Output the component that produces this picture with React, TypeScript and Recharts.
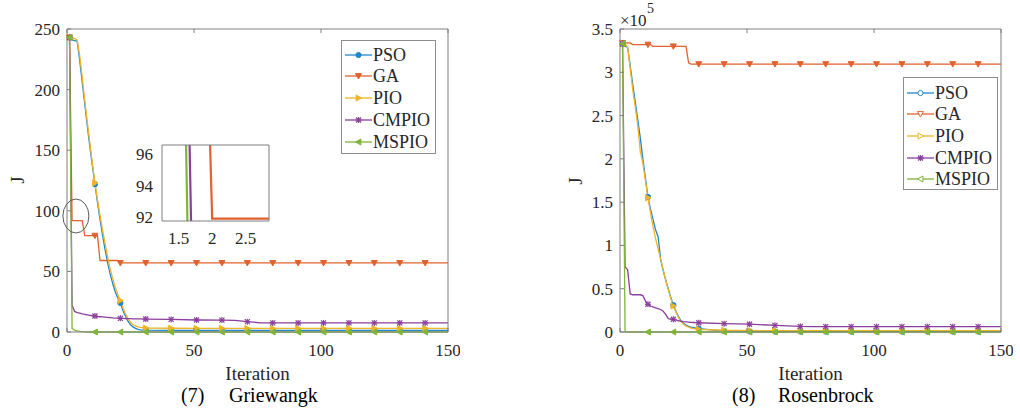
import React from "react";
import { LineChart, Line, XAxis, YAxis, ReferenceDot } from "recharts";

const FONT = '"Liberation Serif", "Times New Roman", serif';
const AXIS = "#7f7f7f";
const TEXT = "#262626";

const ITER = [
  1, 2, 3, 4, 5, 6, 7, 8, 9, 10, 11, 12, 13, 14, 15, 16, 17, 18, 19, 20, 21, 22, 23, 24, 25, 26, 27, 28, 29, 30,
  31, 41, 51, 61, 66, 71, 76, 81, 91, 101, 111, 121, 131, 141, 150,
];

// (7) Griewangk
const PSO_L = [
  243, 241, 240.5, 240, 224, 206, 188, 170, 153, 137, 122, 107, 93, 80, 68, 57, 48, 40, 33, 28, 24, 18, 13, 9, 6, 4.2, 3, 2.2, 1.8, 1.6,
  1.5, 1.4, 1.3, 1.3, 1.3, 1.3, 1.3, 1.3, 1.3, 1.3, 1.3, 1.3, 1.3, 1.3, 1.3,
];
const GA_L = [
  243, 91.9, 91.9, 91.9, 91.9, 91.9, 79.5, 79.5, 79.5, 79.5, 79.5, 79.5, 59, 59, 59, 59, 59, 59, 59, 59, 57, 57, 57, 57, 57, 57, 57, 57, 57, 57,
  57, 57, 57, 57, 57, 57, 57, 57, 57, 57, 57, 57, 57, 57, 57,
];
const PIO_L = [
  243, 243, 242, 241, 228, 210, 191, 173, 156, 139, 123, 109, 96, 84, 73, 62, 52, 44, 37, 31, 26, 20, 15, 11, 8, 6, 5, 4.2, 3.8, 3.5,
  3.3, 3.1, 3, 3, 3, 3, 3, 3, 3, 3, 3, 3, 3, 3, 3,
];
const CMPIO_L = [
  243, 22, 17, 16, 15.5, 15, 14.6, 14.2, 13.8, 13.4, 13.2, 12.8, 12.6, 12.4, 12.2, 12, 11.8, 11.6, 11.5, 11.4, 11.3, 11.2, 11.1, 11, 11, 10.9, 10.9, 10.8, 10.8, 10.7,
  10.7, 10.4, 9.9, 9.8, 9.6, 8.5, 7.6, 7.5, 7.5, 7.5, 7.5, 7.5, 7.5, 7.5, 7.5,
];
const MSPIO_L = [
  243, 3, 1.5, 1, 0.6, 0.3, 0.1, 0, 0, 0, 0, 0, 0, 0, 0, 0, 0, 0, 0, 0, 0, 0, 0, 0, 0, 0, 0, 0, 0, 0,
  0, 0, 0, 0, 0, 0, 0, 0, 0, 0, 0, 0, 0, 0, 0,
];

// (8) Rosenbrock, in units of 1e5
const PSO_R = [
  3.33, 3.3, 3.29, 3.08, 2.86, 2.66, 2.45, 2.24, 2.0, 1.78, 1.56, 1.42, 1.3, 1.18, 1.1, 0.84, 0.71, 0.6, 0.5, 0.4, 0.31, 0.24, 0.18, 0.13, 0.1, 0.08, 0.065, 0.055, 0.05, 0.045,
  0.04, 0.01, 0.007, 0.005, 0.005, 0.005, 0.005, 0.005, 0.005, 0.005, 0.005, 0.005, 0.005, 0.005, 0.005,
];
const GA_R = [
  3.34, 3.34, 3.34, 3.34, 3.32, 3.32, 3.32, 3.32, 3.32, 3.32, 3.32, 3.32, 3.3, 3.3, 3.3, 3.3, 3.3, 3.3, 3.3, 3.3, 3.3, 3.3, 3.3, 3.3, 3.3, 3.3, 3.11, 3.095, 3.095, 3.095,
  3.095, 3.095, 3.095, 3.095, 3.095, 3.095, 3.095, 3.095, 3.095, 3.095, 3.095, 3.095, 3.095, 3.095, 3.095,
];
const PIO_R = [
  3.33, 3.33, 3.29, 3.05, 2.8, 2.6, 2.38, 2.08, 1.95, 1.75, 1.55, 1.38, 1.22, 1.08, 0.96, 0.84, 0.72, 0.6, 0.49, 0.39, 0.3, 0.23, 0.17, 0.12, 0.09, 0.07, 0.055, 0.045, 0.04, 0.035,
  0.03, 0.02, 0.018, 0.016, 0.015, 0.015, 0.015, 0.015, 0.015, 0.015, 0.015, 0.015, 0.015, 0.015, 0.015,
];
const CMPIO_R = [
  3.33, 0.75, 0.72, 0.44, 0.43, 0.43, 0.43, 0.43, 0.42, 0.36, 0.32, 0.3, 0.29, 0.28, 0.27, 0.26, 0.24, 0.2, 0.155, 0.15, 0.147, 0.14, 0.13, 0.125, 0.12, 0.118, 0.115, 0.112, 0.11, 0.108,
  0.107, 0.096, 0.09, 0.077, 0.07, 0.064, 0.062, 0.062, 0.062, 0.062, 0.062, 0.062, 0.062, 0.062, 0.062,
];
const MSPIO_R = [
  3.33, 0, 0, 0, 0, 0, 0, 0, 0, 0, 0, 0, 0, 0, 0, 0, 0, 0, 0, 0, 0, 0, 0, 0, 0, 0, 0, 0, 0, 0,
  0, 0, 0, 0, 0, 0, 0, 0, 0, 0, 0, 0, 0, 0, 0,
];

const X_TICKS = [0, 50, 100, 150];
const Y_TICKS_L = [0, 50, 100, 150, 200, 250];
const Y_TICKS_R = [0, 0.5, 1, 1.5, 2, 2.5, 3, 3.5];
const INSET_X_TICKS = [1.5, 2, 2.5];
const INSET_Y_TICKS = [92, 94, 96];

const SERIES = [
  { key: "pso", name: "PSO", color: "#1f86cc", shape: "circle" },
  { key: "ga", name: "GA", color: "#e0622e", shape: "down" },
  { key: "pio", name: "PIO", color: "#efb526", shape: "right" },
  { key: "cmpio", name: "CMPIO", color: "#8a3f9c", shape: "star" },
  { key: "mspio", name: "MSPIO", color: "#7fb538", shape: "left" },
];

const toRows = (pso: number[], ga: number[], pio: number[], cmpio: number[], mspio: number[]) =>
  ITER.map((it, i) => ({ it, pso: pso[i], ga: ga[i], pio: pio[i], cmpio: cmpio[i], mspio: mspio[i] }));

const leftRows = toRows(PSO_L, GA_L, PIO_L, CMPIO_L, MSPIO_L);
const rightRows = toRows(PSO_R, GA_R, PIO_R, CMPIO_R, MSPIO_R);

function Marker({ shape, cx, cy, color, fill }: any) {
  const s = 3;
  if (shape === "circle") return <circle cx={cx} cy={cy} r={2.6} fill={fill} stroke={color} strokeWidth={1} />;
  if (shape === "down")
    return <polygon points={`${cx - s},${cy - s * 0.8} ${cx + s},${cy - s * 0.8} ${cx},${cy + s}`} fill={fill} stroke={color} strokeWidth={1} />;
  if (shape === "right")
    return <polygon points={`${cx - s * 0.8},${cy - s} ${cx - s * 0.8},${cy + s} ${cx + s},${cy}`} fill={fill} stroke={color} strokeWidth={1} />;
  if (shape === "left")
    return <polygon points={`${cx + s * 0.8},${cy - s} ${cx + s * 0.8},${cy + s} ${cx - s},${cy}`} fill={fill} stroke={color} strokeWidth={1} />;
  return (
    <g stroke={color} strokeWidth={1.2}>
      <line x1={cx - 2.5} x2={cx + 2.5} y1={cy - 2.5} y2={cy + 2.5} />
      <line x1={cx - 2.5} x2={cx + 2.5} y1={cy + 2.5} y2={cy - 2.5} />
      <line x1={cx} x2={cx} y1={cy - 3} y2={cy + 3} />
      <line x1={cx - 3} x2={cx + 3} y1={cy} y2={cy} />
    </g>
  );
}

const makeDot = (shape: string, color: string) => (props: any) => {
  const { cx, cy, payload, index } = props;
  if (cx == null || cy == null || (payload.it - 1) % 10 !== 0) return <g key={index} />;
  return (
    <g key={index}>
      <Marker shape={shape} cx={cx} cy={cy} color={color} fill={color} />
    </g>
  );
};

const tickText = { fontFamily: FONT, fontSize: 17, fill: TEXT };

// axes are 1px wide/high (a 0px axis is not drawn); tick coords land on the plot edge
const BottomTick = (p: any) => (
  <g>
    <line x1={p.x} x2={p.x} y1={p.y} y2={p.y - 4} stroke={AXIS} />
    <text x={p.x} y={p.y + 24} textAnchor="middle" {...tickText}>
      {p.payload.value}
    </text>
  </g>
);
const TopTick = (p: any) => <line x1={p.x} x2={p.x} y1={p.y} y2={p.y + 4} stroke={AXIS} />;
const LeftTick = (p: any) => (
  <g>
    <line x1={p.x} x2={p.x + 4} y1={p.y} y2={p.y} stroke={AXIS} />
    <text x={p.x - 7} y={p.y + 6} textAnchor="end" {...tickText}>
      {p.payload.value}
    </text>
  </g>
);
const RightTick = (p: any) => <line x1={p.x} x2={p.x - 4} y1={p.y} y2={p.y} stroke={AXIS} />;

const InsetBottomTick = (p: any) => (
  <text x={p.x} y={p.y + 23} textAnchor="middle" {...tickText}>
    {p.payload.value}
  </text>
);
const InsetLeftTick = (p: any) => (
  <text x={p.x - 9} y={p.y + 6} textAnchor="end" {...tickText}>
    {p.payload.value}
  </text>
);
const NoTick = () => <g />;

function Txt({ x, y, size = 19, rotate = 0, anchor = "center", children, color = TEXT }: any) {
  const tx = anchor === "center" ? "-50%" : "0";
  return (
    <div
      style={{
        position: "absolute",
        left: x,
        top: y,
        fontFamily: FONT,
        fontSize: size,
        lineHeight: 1,
        color,
        whiteSpace: "nowrap",
        transform: `translate(${tx}, -50%) rotate(${rotate}deg)`,
      }}
    >
      {children}
    </div>
  );
}

function LegendBox({ left, top, width, height, first, step, hollow }: any) {
  return (
    <div
      style={{
        position: "absolute",
        left,
        top,
        width,
        height,
        boxSizing: "border-box",
        border: "1px solid #8c8c8c",
        background: "#fff",
      }}
    >
      {SERIES.map((s, i) => {
        const cy = first + i * step;
        return (
          <div key={s.key}>
            <svg style={{ position: "absolute", left: 0, top: cy - 6 }} width={32} height={12}>
              <line x1={3} x2={30} y1={6} y2={6} stroke={s.color} strokeWidth={1.3} />
              <Marker shape={s.shape} cx={16.5} cy={6} color={s.color} fill={hollow ? "#fff" : s.color} />
            </svg>
            <Txt x={31} y={cy} size={18} anchor="left">
              {s.name}
            </Txt>
          </div>
        );
      })}
    </div>
  );
}

const ELLIPSE = { x: 3.5, y: 95.7, rx: 13, ry: 17 };

function MainChart({ rows, yMax, yTicks, children }: any) {
  return (
    <LineChart width={460} height={360} data={rows} margin={{ top: 28, right: 11, bottom: 27, left: 66 }}>
      <XAxis dataKey="it" type="number" domain={[0, 150]} ticks={X_TICKS} interval={0} height={1} tickSize={0} tickMargin={0}
        tickLine={false} axisLine={{ stroke: AXIS }} tick={BottomTick} />
      <XAxis xAxisId="top" orientation="top" dataKey="it" type="number" domain={[0, 150]} ticks={X_TICKS} interval={0} height={1}
        tickSize={0} tickMargin={0} tickLine={false} axisLine={{ stroke: AXIS }} tick={TopTick} />
      <YAxis type="number" domain={[0, yMax]} ticks={yTicks} interval={0} width={1} tickSize={0} tickMargin={0}
        tickLine={false} axisLine={{ stroke: AXIS }} tick={LeftTick} />
      <YAxis yAxisId="r" orientation="right" type="number" domain={[0, yMax]} ticks={yTicks} interval={0} width={1} tickSize={0}
        tickMargin={0} tickLine={false} axisLine={{ stroke: AXIS }} tick={RightTick} />
      {SERIES.map((s) => (
        <Line key={s.key} type="linear" dataKey={s.key} stroke={s.color} strokeWidth={1.3} dot={makeDot(s.shape, s.color)}
          activeDot={false} isAnimationActive={false} />
      ))}
      {children}
    </LineChart>
  );
}

export default function App() {
  return (
    <div style={{ position: "absolute", left: 0, top: 0, width: 1020, height: 411, background: "#fff", overflow: "hidden" }}>
      <div style={{ position: "absolute", left: 0, top: 0 }}>
        <MainChart rows={leftRows} yMax={250} yTicks={Y_TICKS_L}>
          <ReferenceDot
            x={ELLIPSE.x}
            y={ELLIPSE.y}
            shape={(p: any) => <ellipse cx={p.cx} cy={p.cy} rx={ELLIPSE.rx} ry={ELLIPSE.ry} fill="none" stroke="#5a5a5a" strokeWidth={1} />}
          />
        </MainChart>
      </div>
      <div style={{ position: "absolute", left: 125, top: 140 }}>
        <LineChart width={150} height={110} data={leftRows} margin={{ top: 4, right: 5, bottom: 28, left: 36 }}>
          <XAxis dataKey="it" type="number" domain={[1.25, 2.85]} ticks={INSET_X_TICKS} interval={0} height={1} tickSize={0}
            tickMargin={0} tickLine={false} axisLine={{ stroke: AXIS }} tick={InsetBottomTick} allowDataOverflow />
          <XAxis xAxisId="top" orientation="top" dataKey="it" type="number" domain={[1.25, 2.85]} ticks={INSET_X_TICKS} height={1}
            tick={NoTick} tickLine={false} axisLine={{ stroke: AXIS }} allowDataOverflow />
          <YAxis type="number" domain={[91.75, 96.6]} ticks={INSET_Y_TICKS} interval={0} width={1} tickSize={0} tickMargin={0}
            tickLine={false} axisLine={{ stroke: AXIS }} tick={InsetLeftTick} allowDataOverflow />
          <YAxis yAxisId="r" orientation="right" type="number" domain={[91.75, 96.6]} ticks={INSET_Y_TICKS} width={1} tick={NoTick}
            tickLine={false} axisLine={{ stroke: AXIS }} allowDataOverflow />
          {SERIES.map((s) => (
            <Line key={s.key} type="linear" dataKey={s.key} stroke={s.color} strokeWidth={2.2} dot={false} activeDot={false}
              isAnimationActive={false} />
          ))}
        </LineChart>
      </div>
      <div style={{ position: "absolute", left: 553, top: 0 }}>
        <MainChart rows={rightRows} yMax={3.5} yTicks={Y_TICKS_R} />
      </div>

      <LegendBox left={341} top={40} width={95} height={114} first={13.5} step={21.9} hollow={false} />
      <LegendBox left={903} top={77} width={95} height={113} first={14.5} step={21.7} hollow={true} />

      <Txt x={17} y={180} rotate={-90}>J</Txt>
      <Txt x={575} y={181} rotate={-90}>J</Txt>
      <Txt x={257.5} y={373}>Iteration</Txt>
      <Txt x={810.5} y={373}>Iteration</Txt>
      <Txt x={181} y={395} size={20} anchor="left" color="#000">(7)</Txt>
      <Txt x={229} y={395} size={20} anchor="left" color="#000">Griewangk</Txt>
      <Txt x={732} y={395} size={20} anchor="left" color="#000">(8)</Txt>
      <Txt x={778} y={395} size={20} anchor="left" color="#000">Rosenbrock</Txt>
      <Txt x={620} y={20} size={17} anchor="left">×10</Txt>
      <Txt x={647} y={9} size={14} anchor="left">5</Txt>
    </div>
  );
}
